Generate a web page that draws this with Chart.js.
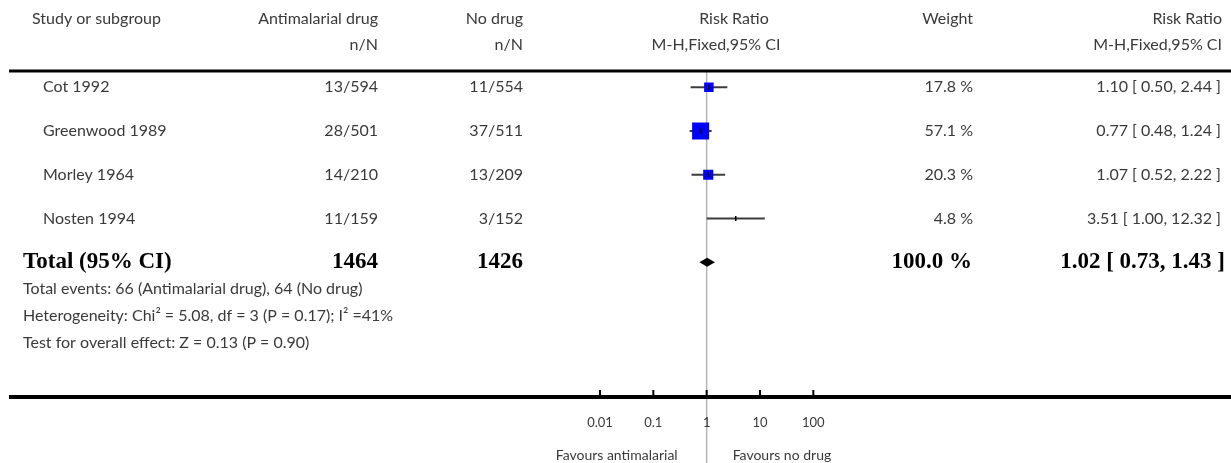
<!DOCTYPE html>
<html>
<head>
<meta charset="utf-8">
<script src="https://cdn.jsdelivr.net/npm/chart.js@4.4.1/dist/chart.umd.min.js"></script>
<style>
  html, body { margin: 0; padding: 0; background: #fff; }
  #wrap { width: 1231px; height: 463px; }
</style>
</head>
<body>
<div id="wrap"><canvas id="chart" width="1231" height="463"></canvas></div>
<script>
// --- data ---
const studies = ['Cot 1992', 'Greenwood 1989', 'Morley 1964', 'Nosten 1994'];
const drugEvents = ['13/594', '28/501', '14/210', '11/159'];
const noDrugEvents = ['11/554', '37/511', '13/209', '3/152'];
const riskRatio = [1.10, 0.77, 1.07, 3.51];
const ciLow = [0.50, 0.48, 0.52, 1.00];
const ciHigh = [2.44, 1.24, 2.22, 12.32];
const weights = [17.8, 57.1, 20.3, 4.8];

const totalLabel = 'Total (95% CI)';
const totalN = [1464, 1426];
const totalWeight = 100.0;
const totalRR = 1.02, totalLow = 0.73, totalHigh = 1.43;

const footnotes = [
  'Total events: 66 (Antimalarial drug), 64 (No drug)',
  'Heterogeneity: Chi\u00B2 = 5.08, df = 3 (P = 0.17); I\u00B2 =41%',
  'Test for overall effect: Z = 0.13 (P = 0.90)'
];

const axisTicks = [0.01, 0.1, 1, 10, 100];
const axisTickLabels = ['0.01', '0.1', '1', '10', '100'];
const favourLabels = ['Favours antimalarial', 'Favours no drug'];

// --- fonts / colours ---
const SANS = '"Lato", "Open Sans", sans-serif';
const TXT = '16px ' + SANS;
const SMALL = '13px ' + SANS;
const FAV = '14px ' + SANS;
const BOLD = 'bold 23px "Liberation Serif", "DejaVu Serif", serif';
const INK = '#3a3a3a';

function fmtCI(r, l, h) {
  return r.toFixed(2) + ' [ ' + l.toFixed(2) + ', ' + h.toFixed(2) + ' ]';
}

function txt(ctx, s, x, y, align, font, color) {
  ctx.save();
  ctx.font = font;
  ctx.fillStyle = color || INK;
  ctx.textAlign = align;
  ctx.textBaseline = 'middle';
  ctx.fillText(s, x, y);
  ctx.restore();
}

// CI whiskers, one line dataset per study
const ciSets = studies.map(function (s, i) {
  return {
    type: 'line',
    label: s + ' CI',
    data: [{ x: ciLow[i], y: i }, { x: ciHigh[i], y: i }],
    borderColor: '#3c3c3c', borderWidth: 2,
    pointRadius: 0, order: 3
  };
});

const forestPlugin = {
  id: 'forest',
  beforeDatasetsDraw(chart) {
    const ctx = chart.ctx, xs = chart.scales.x, area = chart.chartArea;
    const x1 = xs.getPixelForValue(1);
    ctx.save();
    ctx.strokeStyle = '#b4b4b4';
    ctx.lineWidth = 1.5;
    ctx.beginPath();
    ctx.moveTo(x1, area.top);
    ctx.lineTo(x1, chart.height);
    ctx.stroke();
    ctx.restore();
  },
  afterDatasetsDraw(chart) {
    const ctx = chart.ctx, xs = chart.scales.x, ys = chart.scales.y;
    // pooled diamond
    const yc = ys.getPixelForValue(studies.length);
    ctx.save();
    ctx.fillStyle = '#000';
    ctx.beginPath();
    ctx.moveTo(xs.getPixelForValue(totalLow), yc);
    ctx.lineTo(xs.getPixelForValue(totalRR), yc - 4.5);
    ctx.lineTo(xs.getPixelForValue(totalHigh), yc);
    ctx.lineTo(xs.getPixelForValue(totalRR), yc + 4.5);
    ctx.closePath();
    ctx.fill();
    ctx.restore();
  },
  afterDraw(chart) {
    const ctx = chart.ctx, xs = chart.scales.x, ys = chart.scales.y;
    const W = chart.width;

    // header
    txt(ctx, 'Study or subgroup', 32, 19, 'left', TXT);
    txt(ctx, 'Antimalarial drug', 378, 19, 'right', TXT);
    txt(ctx, 'n/N', 378, 45, 'right', TXT);
    txt(ctx, 'No drug', 523, 19, 'right', TXT);
    txt(ctx, 'n/N', 523, 45, 'right', TXT);
    txt(ctx, 'Risk Ratio', 734, 19, 'center', TXT);
    txt(ctx, 'M-H,Fixed,95% CI', 716, 45, 'center', TXT);
    txt(ctx, 'Weight', 973, 19, 'right', TXT);
    txt(ctx, 'Risk Ratio', 1222, 19, 'right', TXT);
    txt(ctx, 'M-H,Fixed,95% CI', 1222, 45, 'right', TXT);

    ctx.save();
    ctx.strokeStyle = '#000';
    ctx.lineWidth = 3;
    ctx.beginPath();
    ctx.moveTo(9, 71); ctx.lineTo(W, 71);
    ctx.stroke();
    ctx.restore();

    // study rows
    studies.forEach(function (s, i) {
      const y = ys.getPixelForValue(i);
      txt(ctx, s, 43, y, 'left', TXT);
      txt(ctx, drugEvents[i], 378, y, 'right', TXT);
      txt(ctx, noDrugEvents[i], 523, y, 'right', TXT);
      txt(ctx, weights[i].toFixed(1) + ' %', 973, y, 'right', TXT);
      txt(ctx, fmtCI(riskRatio[i], ciLow[i], ciHigh[i]), 1221, y, 'right', TXT);
    });

    // total row
    const yt = ys.getPixelForValue(studies.length);
    txt(ctx, totalLabel, 23, yt, 'left', BOLD, '#000');
    txt(ctx, String(totalN[0]), 378, yt, 'right', BOLD, '#000');
    txt(ctx, String(totalN[1]), 523, yt, 'right', BOLD, '#000');
    txt(ctx, totalWeight.toFixed(1) + ' %', 972, yt, 'right', BOLD, '#000');
    txt(ctx, fmtCI(totalRR, totalLow, totalHigh), 1225, yt, 'right', BOLD, '#000');

    // footnotes
    footnotes.forEach(function (f, k) {
      txt(ctx, f, 23, 289 + k * 27, 'left', TXT);
    });

    // bottom axis
    const yAxis = chart.chartArea.bottom;
    ctx.save();
    ctx.strokeStyle = '#000';
    ctx.lineWidth = 4;
    ctx.beginPath();
    ctx.moveTo(9, yAxis); ctx.lineTo(W, yAxis);
    ctx.stroke();
    ctx.lineWidth = 2;
    axisTicks.forEach(function (t) {
      const x = xs.getPixelForValue(t);
      ctx.beginPath();
      ctx.moveTo(x, yAxis - 7); ctx.lineTo(x, yAxis);
      ctx.stroke();
    });
    ctx.restore();
    axisTicks.forEach(function (t, k) {
      txt(ctx, axisTickLabels[k], xs.getPixelForValue(t), 423, 'center', SMALL);
    });
    const x1 = xs.getPixelForValue(1);
    txt(ctx, favourLabels[0], x1 - 29, 455, 'right', FAV);
    txt(ctx, favourLabels[1], x1 + 26, 455, 'left', FAV);
  }
};

new Chart(document.getElementById('chart'), {
  type: 'scatter',
  data: {
    datasets: [
      {
        label: 'Point estimate',
        data: riskRatio.map(function (r, i) { return { x: r, y: i }; }),
        pointStyle: 'line', rotation: 90, pointRadius: 2.5,
        borderColor: '#000', borderWidth: 1.5, order: 1
      },
      {
        label: 'Weight',
        data: riskRatio.map(function (r, i) { return { x: r, y: i }; }),
        pointStyle: 'rect',
        pointRadius: function (c) {
          const side = 2.25 * Math.sqrt(weights[c.dataIndex]);
          return side < 6 ? 0 : side / Math.SQRT2;
        },
        backgroundColor: '#0000ff', borderWidth: 0, order: 2
      }
    ].concat(ciSets)
  },
  options: {
    responsive: false,
    devicePixelRatio: 1,
    animation: false,
    layout: { padding: { left: 600, right: 1231 - 813.33, top: 71, bottom: 463 - 397 } },
    plugins: { legend: { display: false }, tooltip: { enabled: false } },
    scales: {
      x: { type: 'logarithmic', min: 0.01, max: 100, display: false },
      y: { type: 'linear', min: -0.37, max: 7.08, reverse: true, display: false }
    }
  },
  plugins: [forestPlugin]
});
</script>
</body>
</html>
